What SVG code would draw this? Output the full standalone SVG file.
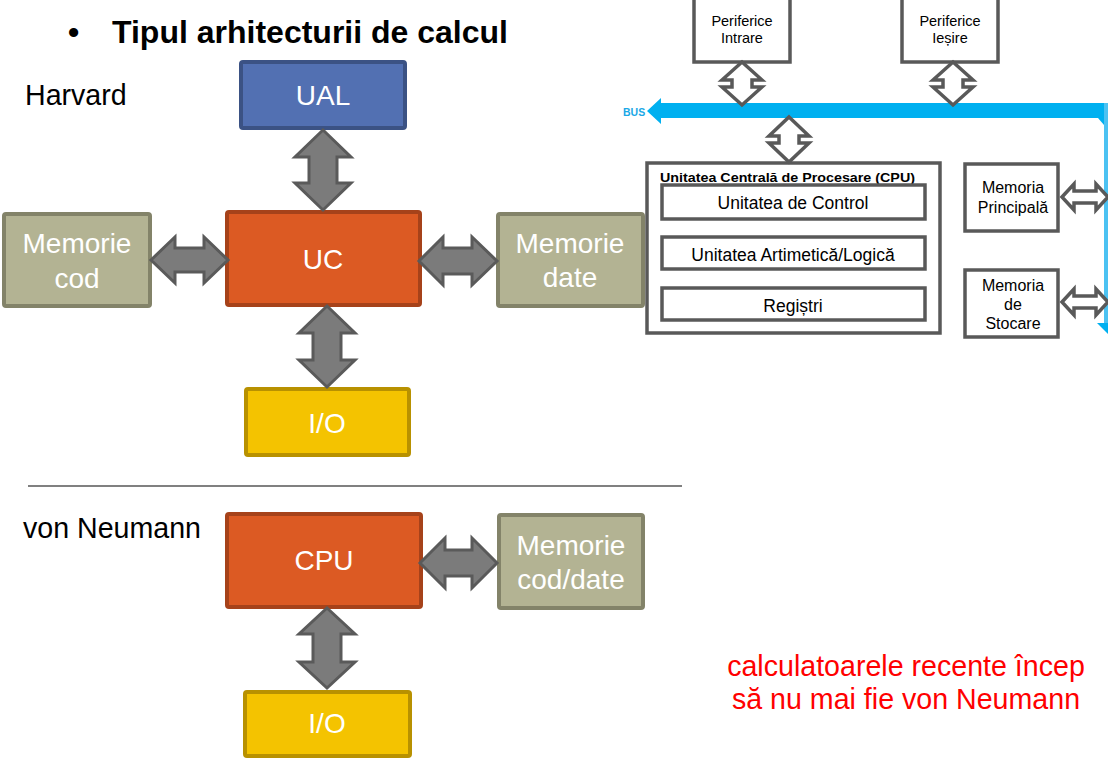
<svg xmlns="http://www.w3.org/2000/svg" width="1108" height="759" viewBox="0 0 1108 759">
<style>
  text { font-family: "Liberation Sans", Arial, sans-serif; }
  .box { stroke-width: 4; }
  .ual { fill: #5270B2; stroke: #3B5284; }
  .uc { fill: #DC5A23; stroke: #A6421A; }
  .mem { fill: #B3B393; stroke: #838369; }
  .io { fill: #F4C300; stroke: #B89100; }
  .lbl { fill: #ffffff; font-size: 28px; text-anchor: middle; }
  .blk { fill: #000000; font-size: 28.6px; }
  .red { fill: #FF0000; font-size: 28.6px; text-anchor: middle; }
  .arr { fill: #7B7B7B; stroke: #5A5A5A; stroke-width: 3; stroke-linejoin: miter; }
  .hol { fill: #ffffff; stroke: #595959; stroke-width: 3.5; stroke-linejoin: miter; }
  .rb { fill: #ffffff; stroke: #595959; stroke-width: 3.5; }
  .rt { fill: #000000; text-anchor: middle; }
  .bus { fill: #00B0F0; }
</style>

<!-- Title and labels -->
<g id="title">
  <text x="68" y="43" style="font-size:32px;font-weight:bold">•</text>
  <text x="112" y="43" style="font-size:32px;font-weight:bold">Tipul arhitecturii de calcul</text>
</g>
<g id="label-harvard"><text class="blk" x="25" y="105">Harvard</text></g>
<g id="label-vonneumann"><text class="blk" x="23" y="538">von Neumann</text></g>
<line x1="28" y1="486" x2="682" y2="486" stroke="#808080" stroke-width="2"/>
<g id="note">
  <text class="red" x="906" y="676">calculatoarele recente încep</text>
  <text class="red" x="906" y="709">să nu mai fie von Neumann</text>
</g>

<!-- Right diagram -->
<g id="periferice-intrare">
  <rect class="rb" x="694" y="-5" width="96" height="67"/>
  <text class="rt" x="742" y="26" style="font-size:14.5px">Periferice</text>
  <text class="rt" x="742" y="43" style="font-size:14.5px">Intrare</text>
</g>
<g id="periferice-iesire">
  <rect class="rb" x="902" y="-5" width="96" height="67"/>
  <text class="rt" x="950" y="26" style="font-size:14.5px">Periferice</text>
  <text class="rt" x="950" y="43" style="font-size:14.5px">Ieșire</text>
</g>
<g id="bus">
  <polygon class="bus" points="647,111 661,98 661,103 1104,103 1104,118 661,118 661,124"/>
  <rect x="1104" y="103" width="4" height="222" fill="#4CC2F2"/>
  <polygon class="bus" points="1098,118 1104,118 1104,125"/>
  <polygon class="bus" points="1097,323 1108,323 1108,334"/>
  <text x="623" y="116" style="font-size:10.5px;font-weight:bold;fill:#1AA8E6">BUS</text>
</g>
<g id="cpu-block">
  <rect class="rb" x="647" y="163" width="293" height="170"/>
  <text x="660" y="182" textLength="255" lengthAdjust="spacingAndGlyphs" style="font-size:12.5px;font-weight:bold;fill:#000">Unitatea Centrală de Procesare (CPU)</text>
</g>
<g id="unitatea-control">
  <rect class="rb" x="662" y="185" width="263" height="34"/>
  <text class="rt" x="793" y="209" style="font-size:17.5px">Unitatea de Control</text>
</g>
<g id="unitatea-alu">
  <rect class="rb" x="662" y="237" width="263" height="32"/>
  <text class="rt" x="793" y="261" style="font-size:17.5px">Unitatea Artimetică/Logică</text>
</g>
<g id="registri">
  <rect class="rb" x="662" y="288" width="263" height="32"/>
  <text class="rt" x="793" y="312" style="font-size:17.5px">Regiștri</text>
</g>
<g id="memoria-principala">
  <rect class="rb" x="965" y="164" width="93" height="67"/>
  <text class="rt" x="1013" y="193" style="font-size:16px">Memoria</text>
  <text class="rt" x="1013" y="213" style="font-size:16px">Principală</text>
</g>
<g id="memoria-stocare">
  <rect class="rb" x="965" y="270" width="93" height="67"/>
  <text class="rt" x="1013" y="291" style="font-size:16px">Memoria</text>
  <text class="rt" x="1013" y="310" style="font-size:16px">de</text>
  <text class="rt" x="1013" y="329" style="font-size:16px">Stocare</text>
</g>

<!-- Harvard nodes -->
<g id="ual">
  <rect class="box ual" x="241" y="62" width="164" height="66" rx="2"/>
  <text class="lbl" x="323" y="105">UAL</text>
</g>
<g id="uc">
  <rect class="box uc" x="227" y="212" width="193" height="93" rx="2"/>
  <text class="lbl" x="323" y="269">UC</text>
</g>
<g id="memorie-cod">
  <rect class="box mem" x="4" y="214" width="146" height="92" rx="2"/>
  <text class="lbl" x="77" y="253">Memorie</text>
  <text class="lbl" x="77" y="288">cod</text>
</g>
<g id="memorie-date">
  <rect class="box mem" x="498" y="214" width="145" height="92" rx="2"/>
  <text class="lbl" x="570" y="253">Memorie</text>
  <text class="lbl" x="570" y="287">date</text>
</g>
<g id="io-harvard">
  <rect class="box io" x="246" y="389" width="163" height="66" rx="2"/>
  <text class="lbl" x="327" y="433">I/O</text>
</g>

<!-- von Neumann nodes -->
<g id="cpu">
  <rect class="box uc" x="227" y="514" width="194" height="93" rx="2"/>
  <text class="lbl" x="324" y="570">CPU</text>
</g>
<g id="memorie-cod-date">
  <rect class="box mem" x="499" y="515" width="144" height="93" rx="2"/>
  <text class="lbl" x="571" y="555">Memorie</text>
  <text class="lbl" x="571" y="589">cod/date</text>
</g>
<g id="io-vonneumann">
  <rect class="box io" x="245" y="692" width="165" height="64" rx="2"/>
  <text class="lbl" x="327" y="733">I/O</text>
</g>

<!-- Connectors -->
<g id="connectors">
  <!-- Harvard filled double arrows -->
  <path class="arr" d="M323,130 L351,157 L337,157 L337,183 L351,183 L323,210 L295,183 L309,183 L309,157 L295,157 Z"/>
  <path class="arr" d="M327,306 L355,333 L341,333 L341,360 L355,360 L327,387 L299,360 L313,360 L313,333 L299,333 Z"/>
  <path class="arr" d="M151,260 L175,237 L175,248 L204,248 L204,237 L228,260 L204,283 L204,272 L175,272 L175,283 Z"/>
  <path class="arr" d="M419,261 L443,237 L443,248 L472,248 L472,237 L497,261 L472,285 L472,274 L443,274 L443,285 Z"/>
  <!-- von Neumann filled double arrows -->
  <path class="arr" d="M420,563 L445,538 L445,550 L472,550 L472,538 L497,563 L472,588 L472,576 L445,576 L445,588 Z"/>
  <path class="arr" d="M327,608 L355,634 L341,634 L341,662 L355,662 L327,688 L299,662 L313,662 L313,634 L299,634 Z"/>
  <!-- Right diagram hollow double arrows -->
  <path class="hol" d="M742,62 L762,80 L752,80 L752,87 L762,87 L742,105 L722,87 L732,87 L732,80 L722,80 Z"/>
  <path class="hol" d="M953,62 L973,80 L963,80 L963,87 L973,87 L953,105 L933,87 L943,87 L943,80 L933,80 Z"/>
  <path class="hol" d="M789,117 L809,136 L799,136 L799,143 L809,143 L789,162 L769,143 L779,143 L779,136 L769,136 Z"/>
  <path class="hol" d="M1062,197 L1074,184 L1074,191 L1096,191 L1096,184 L1108,197 L1096,210 L1096,203 L1074,203 L1074,210 Z"/>
  <path class="hol" d="M1062,302 L1074,289 L1074,296 L1096,296 L1096,289 L1108,302 L1096,315 L1096,308 L1074,308 L1074,315 Z"/>
</g>
</svg>
